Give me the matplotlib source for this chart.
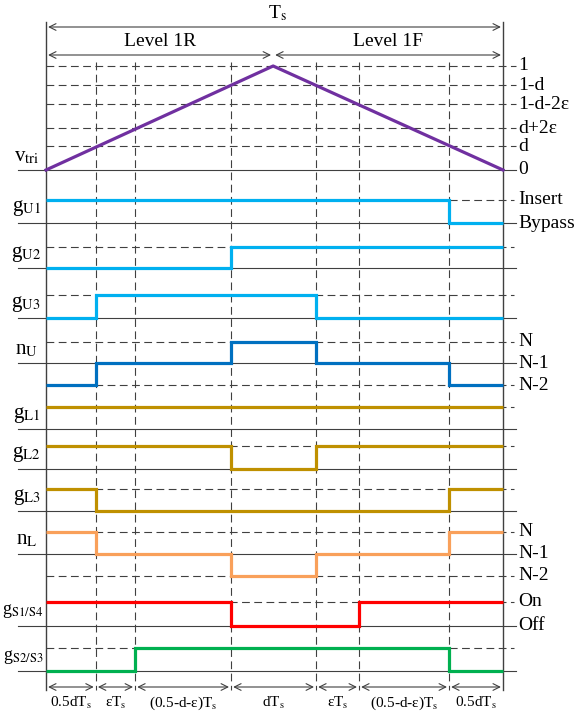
import numpy as np
import matplotlib.pyplot as plt

plt.rcParams['font.family'] = ['Liberation Serif', 'DejaVu Serif']
plt.rcParams['mathtext.fontset'] = 'stix'

# switching instants within one carrier period (units of Ts)
t_edges = [0.0, 0.109, 0.195, 0.405, 0.591, 0.685, 0.882, 1.0]
seg_labels = ['0.5dT$_{\\rm s}$', '\u03b5T$_{\\rm s}$', '(0.5-d-\u03b5)T$_{\\rm s}$', 'dT$_{\\rm s}$',
              '\u03b5T$_{\\rm s}$', '(0.5-d-\u03b5)T$_{\\rm s}$', '0.5dT$_{\\rm s}$']

# triangular carrier
tri_t = [0.0, 0.497, 1.0]
tri_v = [0.0, 1.0, 0.0]
tri_levels = [0.0, 0.23, 0.40, 0.63, 0.815, 1.0]
tri_level_labels = ['0', 'd', 'd+2\u03b5', '1-d-2\u03b5', '1-d', '1']

# gate / level signals, one value per segment
g_U1 = [1, 1, 1, 1, 1, 1, 0]
g_U2 = [0, 0, 0, 1, 1, 1, 1]
g_U3 = [0, 1, 1, 1, 0, 0, 0]
n_U = [0, 1, 1, 2, 1, 1, 0]
g_L1 = [1, 1, 1, 1, 1, 1, 1]
g_L2 = [1, 1, 1, 0, 1, 1, 1]
g_L3 = [1, 0, 0, 0, 0, 0, 1]
n_L = [2, 1, 1, 0, 1, 1, 2]
g_S14 = [1, 1, 1, 0, 0, 1, 1]
g_S23 = [0, 0, 1, 1, 1, 1, 0]

# layout (pixels) -------------------------------------------------------
W, H = 587, 716
X0, XW = 46, 457
def px(x):
    return (x - X0) / XW

GRAY = '#404040'
DASH = (0, (7, 4))

fig = plt.figure(figsize=(W / 100, H / 100), dpi=100)
ax = fig.add_axes([0, 0, 1, 1])
ax.set_xlim(px(0), px(W))
ax.set_ylim(H, 0)
ax.axis('off')

# rows: (name, values, levels_in_px [low..high], solid index, colour, right labels, label right edge, size)
rows = [
    ('g$_{\\rm U1}$', g_U1, [223, 200], 0, '#00B0F0', ['Bypass', 'Insert'], 41, 15),
    ('g$_{\\rm U2}$', g_U2, [268, 247], 0, '#00B0F0', None, 41, 15),
    ('g$_{\\rm U3}$', g_U3, [318, 295], 0, '#00B0F0', None, 41, 15),
    ('n$_{\\rm U}$', n_U, [385, 363, 342], 1, '#0070C0', ['N-2', 'N-1', 'N'], 38, 15),
    ('g$_{\\rm L1}$', g_L1, [429, 407], 0, '#BF9000', None, 41, 15),
    ('g$_{\\rm L2}$', g_L2, [469, 446], 0, '#BF9000', None, 41, 15),
    ('g$_{\\rm L3}$', g_L3, [511, 489], 0, '#BF9000', None, 41, 15),
    ('n$_{\\rm L}$', n_L, [576, 554, 532], 1, '#F9A05A', ['N-2', 'N-1', 'N'], 38, 15),
    ('g$_{\\rm S1/S4}$', g_S14, [626, 602], 0, '#FF0000', ['Off', 'On'], 43, 13),
    ('g$_{\\rm S2/S3}$', g_S23, [671, 648], 0, '#00B050', None, 43, 13),
]

# borders and dashed time markers
for x in (0, 1):
    ax.plot([x, x], [22, 690], color=GRAY, lw=1.0)
for t in t_edges[1:-1]:
    ax.plot([t, t], [62, 690], color=GRAY, lw=0.8, ls=DASH)

# carrier row
tri_y0, tri_amp = 170, 104
for lv, lab in zip(tri_levels, tri_level_labels):
    y = tri_y0 - lv * tri_amp
    if lv == 0:
        ax.plot([px(18), px(516)], [y, y], color=GRAY, lw=0.8)
    else:
        ax.plot([0, px(516)], [y, y], color=GRAY, lw=0.8, ls=DASH)
    ax.text(px(518), y, lab, ha='left', va='center', fontsize=14)
ax.plot(tri_t, tri_y0 - np.array(tri_v) * tri_amp, color='#7030A0', lw=2.3)
ax.text(px(39), 157, 'v$_{\\rm tri}$', ha='right', va='center', fontsize=15)

for name, vals, lv_px, solid, col, rlabels, xr, fs in rows:
    for i, y in enumerate(lv_px):
        if i == solid:
            ax.plot([px(18), px(516)], [y, y], color=GRAY, lw=0.8)
        else:
            ax.plot([0, px(514)], [y, y], color=GRAY, lw=0.8, ls=DASH)
    yy = [lv_px[v] for v in vals]
    ax.step(t_edges, yy + [yy[-1]], where='post', color=col, lw=2.3,
            solid_joinstyle='miter', solid_capstyle='butt')
    ymid = (lv_px[-1] + lv_px[0]) / 2 if len(lv_px) == 2 else (lv_px[2] + lv_px[1]) / 2
    ax.text(px(xr), ymid - 3, name, ha='right', va='center', fontsize=fs)
    if rlabels:
        for y, lab in zip(lv_px, rlabels):
            ax.text(px(518), y, lab, ha='left', va='center', fontsize=14)

# dimension arrows
arr = dict(arrowstyle='<->', lw=0.8, color=GRAY, shrinkA=1.5, shrinkB=1.5,
           mutation_scale=12)
ax.annotate('', xy=(1, 27), xytext=(0, 27), arrowprops=arr)
ax.text(px(277), 13, 'T$_{\\rm s}$', ha='center', va='center', fontsize=14)
ax.annotate('', xy=(tri_t[1], 55), xytext=(0, 55), arrowprops=arr)
ax.annotate('', xy=(1, 55), xytext=(tri_t[1], 55), arrowprops=arr)
ax.text(tri_t[1] / 2, 42, 'Level 1R', ha='center', va='center', fontsize=14)
ax.text((1 + tri_t[1]) / 2, 42, 'Level 1F', ha='center', va='center', fontsize=14)

for a, b, lab in zip(t_edges[:-1], t_edges[1:], seg_labels):
    ax.annotate('', xy=(b, 687), xytext=(a, 687), arrowprops=arr)
    ax.text((a + b) / 2, 703, lab, ha='center', va='center', fontsize=11)

fig.savefig('out.png', dpi=100)
